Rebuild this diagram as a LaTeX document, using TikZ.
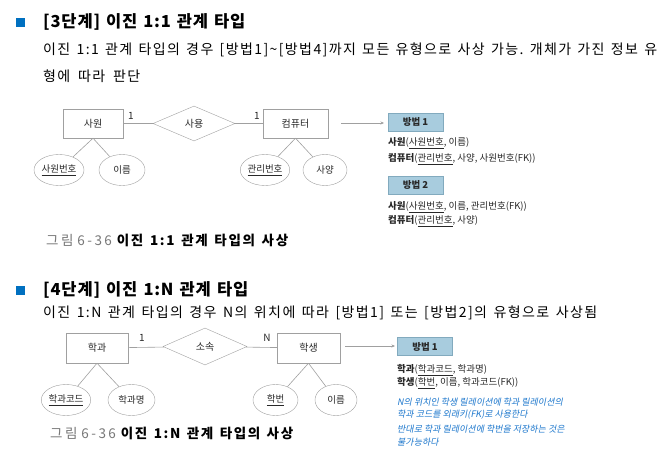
\documentclass[tikz,border=0pt]{standalone}
\usepackage{fontspec}
\setmainfont{Noto Sans CJK KR}
\newfontfamily\hand[FakeSlant=0.2]{Noto Sans CJK KR}
\newfontfamily\bodyfont[LetterSpace=10]{Noto Sans CJK KR}
\newfontfamily\titlefont[LetterSpace=5]{Noto Sans CJK KR}
\newfontfamily\capgrayfont[LetterSpace=18]{Noto Sans CJK KR}
\newfontfamily\capboldfont[LetterSpace=12]{Noto Sans CJK KR}
\usetikzlibrary{shapes.geometric,arrows.meta}
\definecolor{sqblue}{RGB}{0,112,192}
\definecolor{linegray}{RGB}{160,160,160}
\definecolor{boxfill}{RGB}{168,204,222}
\definecolor{boxdraw}{RGB}{130,170,190}
\definecolor{handblue}{RGB}{30,120,205}
\definecolor{capgray}{RGB}{120,120,120}
\definecolor{txt}{RGB}{40,40,40}
\newcommand{\ukey}[1]{\underline{#1}}
\newcommand{\fitline}[2]{\hbox to #1{\frenchspacing\spaceskip=0.3em plus 1fil minus 0.15em\xspaceskip=\spaceskip #2}}
\tikzset{
  bullet/.style={fill=sqblue, draw=none, minimum size=9pt, inner sep=0pt},
  title/.style={anchor=west, inner sep=0pt, font=\fontsize{16.5}{19}\selectfont\titlefont\bfseries},
  body/.style={anchor=west, inner sep=0pt, font=\fontsize{14}{17}\selectfont\bodyfont},
  entity/.style={draw=linegray, fill=white, rectangle, inner sep=0pt, text=txt, font=\fontsize{10}{12}\selectfont},
  rel/.style={draw=linegray, diamond, aspect=2.3, inner sep=0pt, text=txt, font=\fontsize{10}{12}\selectfont},
  attr/.style={draw=linegray, ellipse, inner sep=0pt, text=txt, font=\fontsize{9.5}{11}\selectfont},
  conn/.style={draw=linegray, line width=0.6pt},
  card/.style={inner sep=0pt, text=txt, font=\fontsize{10}{12}\selectfont},
  maparrow/.style={draw=linegray, line width=0.6pt, -{Stealth[length=3.5pt,width=3pt]}},
  method/.style={draw=boxdraw, fill=boxfill, rectangle, inner sep=0pt, minimum width=55pt, minimum height=18pt, text=txt, font=\fontsize{9.5}{11}\selectfont\bfseries},
  schema/.style={anchor=west, inner sep=0pt, text=txt, font=\fontsize{9.5}{11}\selectfont},
  handtext/.style={anchor=west, inner sep=0pt, text=handblue, font=\fontsize{9}{11}\selectfont\hand},
  caption/.style={anchor=west, inner sep=0pt, font=\fontsize{13.5}{16}\selectfont},
}
\begin{document}
\begin{tikzpicture}[x=1pt,y=-1pt]
\useasboundingbox[fill=white] (0,0) rectangle (661,463);

% ---------- Section 1 ----------
\node[bullet] (b1) at (20,22.5) {};
\node[title] (t1) at (43,21.5) {\fitline{202pt}{[3단계] 이진 1:1 관계 타입}};
\node[body] (p1) at (43,50) {\fitline{614pt}{이진 1:1 관계 타입의 경우 [방법1]\textasciitilde[방법4]까지 모든 유형으로 사상 가능. 개체가 가진 정보 유}};
\node[body] (p2) at (43,76) {\fitline{97pt}{형에 따라 판단}};

\node[entity, minimum width=60pt, minimum height=29pt] (e1) at (93,123.5) {사원};
\node[rel, minimum width=82pt, minimum height=35pt] (r1) at (194,123.5) {사용};
\node[entity, minimum width=65pt, minimum height=29pt] (e2) at (295.5,123.5) {컴퓨터};
\draw[conn] (e1) -- (r1);
\draw[conn] (r1) -- (e2);
\node[card] (c1) at (131,116) {1};
\node[card] (c2) at (257,116) {1};

\node[attr, minimum width=50pt, minimum height=31pt] (a1) at (59,170) {\ukey{사원번호}};
\node[attr, minimum width=46pt, minimum height=31pt] (a2) at (122,170) {이름};
\node[attr, minimum width=46pt, minimum height=31pt] (a3) at (265,170) {\ukey{관리번호}};
\node[attr, minimum width=44pt, minimum height=31pt] (a4) at (325,170) {사양};
\draw[conn] (e1.south) -- (a1);
\draw[conn] (e1.south) -- (a2);
\draw[conn] (e2.south) -- (a3);
\draw[conn] (e2.south) -- (a4);

\coordinate (s1) at (341,123);
\coordinate (f1) at (384,123);
\draw[maparrow] (s1) -- (f1);

\node[method] (m1) at (415.5,122) {방법 1};
\node[schema] (l1) at (388,143) {\textbf{사원}(\ukey{사원번호}, 이름)};
\node[schema] (l2) at (388,159) {\textbf{컴퓨터}(\ukey{관리번호}, 사양, 사원번호(FK))};
\node[method] (m2) at (415.5,185) {방법 2};
\node[schema] (l3) at (388,207) {\textbf{사원}(\ukey{사원번호}, 이름, 관리번호(FK))};
\node[schema] (l4) at (388,221) {\textbf{컴퓨터}(\ukey{관리번호}, 사양)};

\node[caption] (cap1) at (46,240) {\fitline{242pt}{\textcolor{capgray}{\capgrayfont 그림\hspace{4pt}6-36}\hspace{5pt}{\capboldfont\bfseries 이진 1:1 관계 타입의 사상}}};

% ---------- Section 2 ----------
\node[bullet] (b2) at (20,290.5) {};
\node[title] (t2) at (43,289.5) {\fitline{205pt}{[4단계] 이진 1:N 관계 타입}};
\node[body] (p3) at (43,312.5) {\fitline{554pt}{이진 1:N 관계 타입의 경우 N의 위치에 따라 [방법1] 또는 [방법2]의 유형으로 사상됨}};

\node[entity, minimum width=62pt, minimum height=30pt] (e3) at (97,348) {학과};
\node[rel, minimum width=84pt, minimum height=37pt] (r2) at (205,346.5) {소속};
\node[entity, minimum width=63pt, minimum height=30pt] (e4) at (308.5,348) {학생};
\draw[conn] (e3) -- (r2);
\draw[conn] (r2) -- (e4);
\node[card] (c3) at (142,338) {1};
\node[card] (c4) at (267,338) {N};

\node[attr, minimum width=48pt, minimum height=31pt] (a5) at (66,400) {\ukey{학과코드}};
\node[attr, minimum width=47pt, minimum height=31pt] (a6) at (131.5,400) {학과명};
\node[attr, minimum width=45pt, minimum height=31pt] (a7) at (275.5,400) {\ukey{학번}};
\node[attr, minimum width=42pt, minimum height=31pt] (a8) at (336,400) {이름};
\draw[conn] (e3.south) -- (a5);
\draw[conn] (e3.south) -- (a6);
\draw[conn] (e4.south) -- (a7);
\draw[conn] (e4.south) -- (a8);

\coordinate (s2) at (345,346);
\coordinate (f2) at (395,346);
\draw[maparrow] (s2) -- (f2);

\node[method] (m3) at (425,346.5) {방법 1};
\node[schema] (l5) at (397,370) {\textbf{학과}(\ukey{학과코드}, 학과명)};
\node[schema] (l6) at (397,383) {\textbf{학생}(\ukey{학번}, 이름, 학과코드(FK))};
\node[handtext] (h1) at (397,402) {N의 위치인 학생 릴레이션에 학과 릴레이션의};
\node[handtext] (h2) at (397,415) {학과 코드를 외래키(FK)로 사용한다};
\node[handtext] (h3) at (397,429) {반대로 학과 릴레이션에 학번을 저장하는 것은};
\node[handtext] (h4) at (397,442) {불가능하다};

\node[caption] (cap2) at (50,433) {\fitline{243pt}{\textcolor{capgray}{\capgrayfont 그림\hspace{4pt}6-36}\hspace{5pt}{\capboldfont\bfseries 이진 1:N 관계 타입의 사상}}};
\end{tikzpicture}
\end{document}
